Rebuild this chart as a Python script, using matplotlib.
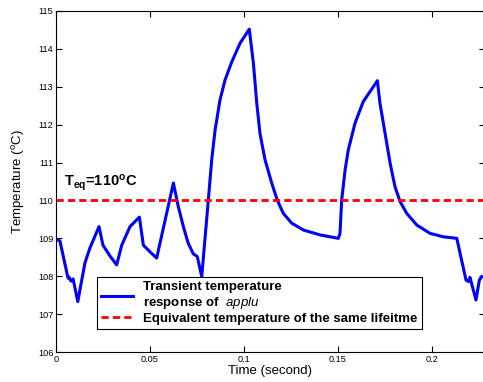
import numpy as np
import matplotlib
matplotlib.use('Agg')
import matplotlib.pyplot as plt

plt.rcParams['font.family'] = ['Liberation Sans', 'DejaVu Sans']
plt.rcParams['mathtext.fontset'] = 'custom'
plt.rcParams['mathtext.rm'] = 'Liberation Sans'
plt.rcParams['mathtext.it'] = 'Liberation Sans:italic'
plt.rcParams['mathtext.bf'] = 'Liberation Sans:bold'

# transient temperature of applu
time_s = [0.0, 0.0021, 0.0064, 0.0069, 0.0080, 0.0091, 0.0116, 0.0154, 0.0181, 0.0229,
          0.0250, 0.0288, 0.0323, 0.0350, 0.0394, 0.0444, 0.0465, 0.0501, 0.0536, 0.0625,
          0.0651, 0.0678, 0.0704, 0.0731, 0.0752, 0.0776, 0.0788, 0.0811, 0.0829, 0.0847,
          0.0873, 0.0900, 0.0936, 0.0980, 0.1029, 0.1051, 0.1069, 0.1086, 0.1113, 0.1149,
          0.1178, 0.1210, 0.1255, 0.1317, 0.1406, 0.1503, 0.1512, 0.1521, 0.1539, 0.1556,
          0.1592, 0.1636, 0.1711, 0.1725, 0.1752, 0.1779, 0.1805, 0.1832, 0.1867, 0.1921,
          0.1992, 0.2062, 0.2134, 0.2151, 0.2183, 0.2196, 0.2204, 0.2236, 0.2254, 0.2267]
temp_c = [108.98, 108.93, 107.95, 107.98, 107.87, 107.93, 107.33, 108.35, 108.75, 109.31,
          108.82, 108.53, 108.30, 108.82, 109.31, 109.56, 108.82, 108.64, 108.48, 110.46,
          109.84, 109.31, 108.87, 108.59, 108.52, 107.99, 108.69, 110.01, 111.07, 111.86,
          112.65, 113.18, 113.66, 114.15, 114.52, 113.62, 112.56, 111.77, 111.07, 110.45,
          110.01, 109.66, 109.40, 109.22, 109.09, 109.00, 109.13, 110.01, 110.80, 111.33,
          112.04, 112.61, 113.16, 112.56, 111.77, 110.98, 110.36, 109.97, 109.66, 109.35,
          109.13, 109.04, 109.00, 108.61, 107.90, 107.86, 107.97, 107.37, 107.90, 107.99]
t_eq = 110
x_ticks = [0, 0.05, 0.1, 0.15, 0.2]
x_ticklabels = ['0', '0.05', '0.1', '0.15', '0.2']
y_ticks = list(range(106, 116))

fig = plt.figure(figsize=(4.83, 3.82), dpi=100)
ax = fig.add_axes([56 / 483, 30 / 382, 429 / 483, 341 / 382])

ax.plot(time_s, temp_c, color='#0000ff', lw=2.2,
        label='Transient temperature\nresponse of  $\\mathit{applu}$')
ax.axhline(t_eq, color='#ff0000', lw=2.0, dashes=(2.6, 1.5),
           label='Equivalent temperature of the same lifeitme')

ax.text(0.0043, 110.46, r'$\mathbf{T_{eq}}$=110$^{\mathbf{o}}$C', fontsize=10.5,
        fontweight='bold', va='center', ha='left')

ax.set_xlim(0, 0.2284)
ax.set_ylim(106, 115)
ax.set_xticks(x_ticks)
ax.set_xticklabels(x_ticklabels)
ax.set_yticks(y_ticks)
ax.tick_params(direction='in', length=4, width=0.8, labelsize=6.6,
               top=True, right=True, pad=2)
for s in ax.spines.values():
    s.set_linewidth(0.8)

ax.set_xlabel('Time (second)', fontsize=9.5, labelpad=1)
ax.set_ylabel('Temperature ($^{\\rm o}$C)', fontsize=9.5, labelpad=8)

leg = ax.legend(loc='upper left', bbox_to_anchor=(0.096, 0.22), borderaxespad=0,
                fancybox=False, edgecolor='black', framealpha=1, shadow=False,
                prop={'weight': 'bold', 'size': 9.5}, handlelength=2.4,
                labelspacing=0.1, borderpad=0.3, handletextpad=0.8)
leg.get_frame().set_linewidth(0.8)

fig.savefig('out.png', dpi=100)
